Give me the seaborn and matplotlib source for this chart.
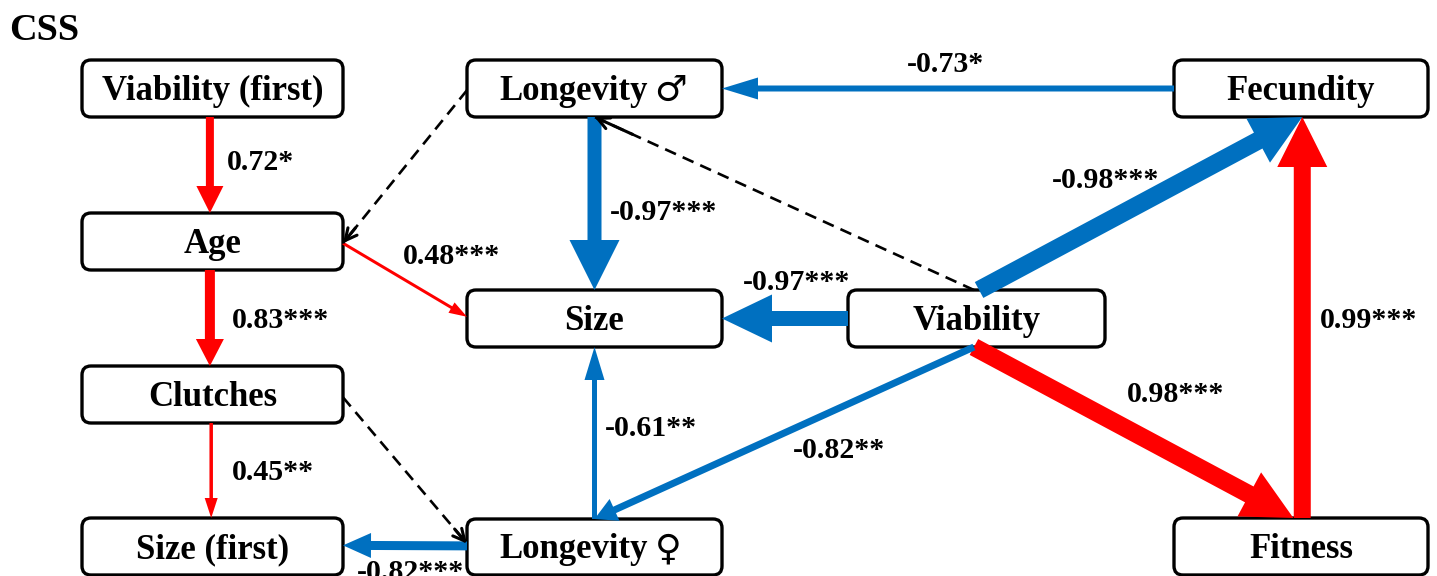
import matplotlib
matplotlib.use("Agg")
import matplotlib.pyplot as plt
from matplotlib.patches import FancyBboxPatch, FancyArrow
import seaborn as sns

# ---- path model: nodes and standardized path coefficients ----
nodes = ["Viability (first)", "Age", "Clutches", "Size (first)",
         "Longevity ♂", "Size", "Longevity ♀",
         "Viability", "Fecundity", "Fitness"]

path_from = ["Viability (first)", "Age", "Clutches", "Age",
             "Longevity ♂", "Viability", "Viability", "Viability",
             "Viability", "Longevity ♀", "Longevity ♀", "Fecundity",
             "Fitness",
             "Longevity ♂", "Clutches", "Viability"]
path_to = ["Age", "Clutches", "Size (first)", "Size",
           "Size", "Size", "Fecundity", "Fitness",
           "Longevity ♀", "Size", "Size (first)", "Longevity ♂",
           "Fecundity",
           "Age", "Longevity ♀", "Longevity ♂"]
path_coef = [0.72, 0.83, 0.45, 0.48,
             -0.97, -0.97, -0.98, 0.98,
             -0.82, -0.61, -0.82, -0.73,
             0.99,
             None, None, None]
path_sig = ["*", "***", "**", "***",
            "***", "***", "***", "***",
            "**", "**", "***", "*",
            "***",
            "", "", ""]

# ---- layout (pixel canvas) ----
W, H = 1437, 576
box_x = {"Viability (first)": (82, 343), "Age": (82, 343), "Clutches": (82, 343),
         "Size (first)": (82, 343), "Longevity ♂": (467, 722), "Size": (467, 722),
         "Longevity ♀": (467, 722), "Viability": (848, 1105),
         "Fecundity": (1174, 1428), "Fitness": (1174, 1428)}
box_y = {"Viability (first)": (60, 117), "Age": (213, 270), "Clutches": (366, 423),
         "Size (first)": (518, 575), "Longevity ♂": (60, 117), "Size": (290, 347),
         "Longevity ♀": (519, 575), "Viability": (290, 347),
         "Fecundity": (60, 117), "Fitness": (518, 575)}

# anchor fractions on source / target boxes (fx, fy), fy=0 top edge
src_anchor = [(0.49, 1), (0.49, 1), (0.495, 1), (1, 0.53),
              (0.5, 1), (0, 0.5), (0.51, 0), (0.49, 1),
              (0.49, 1), (0.5, 0), (0, 0.48), (0, 0.5),
              (0.505, 0),
              (0, 0.53), (1, 0.55), (0.49, 0)]
dst_anchor = [(0.49, 0), (0.49, 0), (0.495, 0), (0, 0.47),
              (0.5, 0), (1, 0.5), (0.505, 1), (0.47, 0),
              (0.5, 0), (0.5, 1), (1, 0.48), (1, 0.5),
              (0.505, 1),
              (1, 0.53), (0, 0.44), (0.5, 1)]
# shaft width, head width, head length (px)
shaft_w = [8, 10, 3.5, 3, 14, 15, 18, 18, 7, 5, 9, 6, 17, 0, 0, 0]
head_w = [27, 28, 13, 12, 50, 48, 50, 50, 24, 20, 25, 22, 50, 0, 0, 0]
head_l = [27, 27, 20, 18, 50, 50, 50, 50, 22, 33, 28, 36, 50, 0, 0, 0]
label_xy = [(227, 162), (232, 320), (232, 473), (403, 257),
            (610, 212), (743, 282), (1052, 180), (1127, 395),
            (793, 450), (605, 428), (357, 572), (907, 65),
            (1320, 320),
            None, None, None]

sns.set_theme(style="white")
pos_color, neg_color = "#FF0000", "#0070C0"
serif = ["Liberation Serif", "DejaVu Serif"]
plt.rcParams["font.family"] = serif

fig = plt.figure(figsize=(W / 100, H / 100), dpi=100)
ax = fig.add_axes([0, 0, 1, 1])
ax.set_xlim(0, W)
ax.set_ylim(H, 0)
ax.set_aspect("equal")
ax.axis("off")


def anchor(node, frac):
    x0, x1 = box_x[node]
    y0, y1 = box_y[node]
    return x0 + frac[0] * (x1 - x0), y0 + frac[1] * (y1 - y0)


node_fs = 25
# boxes
for n in nodes:
    x0, x1 = box_x[n]
    y0, y1 = box_y[n]
    xc, yc = (x0 + x1) / 2, (y0 + y1) / 2 + 3
    ax.add_patch(FancyBboxPatch((x0, y0), x1 - x0, y1 - y0,
                                boxstyle="round,pad=0,rounding_size=9",
                                fc="white", ec="black", lw=2.4, zorder=2))
    if n[-1] in "♂♀":
        # word in bold serif, sex symbol in a lighter, larger glyph
        word, sym = n[:-2], n[-1]
        ax.text(xc + 53, yc, word, ha="right", va="center",
                fontsize=node_fs, fontweight="bold", color="black", zorder=3)
        ax.text(xc + 60, yc - 1, sym, ha="left", va="center",
                fontsize=node_fs * 1.05, fontweight="normal",
                family=["DejaVu Sans"], color="black", zorder=3)
    else:
        ax.text(xc, yc, n, ha="center", va="center",
                fontsize=node_fs, fontweight="bold", color="black", zorder=3)

# paths
for i in range(len(path_from)):
    sx, sy = anchor(path_from[i], src_anchor[i])
    tx, ty = anchor(path_to[i], dst_anchor[i])
    c = path_coef[i]
    if c is None:
        # non-significant path: dashed line with small open head
        ax.plot([sx, tx], [sy, ty], color="black", lw=1.9,
                dashes=(4.5, 2.8), zorder=4, solid_capstyle="butt")
        ax.annotate("", xy=(tx, ty), xytext=(tx + (sx - tx) * 0.1, ty + (sy - ty) * 0.1),
                    arrowprops=dict(arrowstyle="->,head_length=0.7,head_width=0.35",
                                    color="black", lw=2.2, shrinkA=0, shrinkB=0),
                    zorder=4)
        continue
    col = pos_color if c > 0 else neg_color
    ax.add_patch(FancyArrow(sx, sy, tx - sx, ty - sy, width=shaft_w[i],
                            head_width=head_w[i], head_length=head_l[i],
                            length_includes_head=True, color=col, lw=0, zorder=4))
    lx, ly = label_xy[i]
    ax.text(lx, ly, f"{c:.2f}{path_sig[i]}", ha="left", va="center",
            fontsize=21.5, fontweight="bold", color="black", zorder=5)

ax.text(9, 30, "CSS", ha="left", va="center", fontsize=27.5,
        fontweight="bold", color="black")

fig.savefig("out.png", dpi=100, facecolor="white")
